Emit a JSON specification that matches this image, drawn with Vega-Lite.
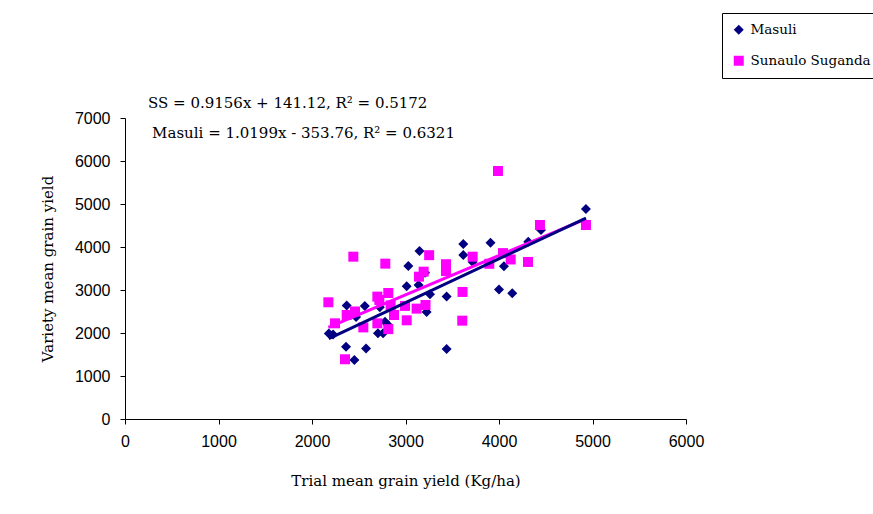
{
  "$schema": "https://vega.github.io/schema/vega-lite/v6.json",
  "autosize": {"type": "none"},
  "width": 561,
  "height": 301,
  "padding": {"left": 125, "top": 118, "right": 187, "bottom": 95},
  "background": "white",
  "config": {
    "view": {"stroke": null},
    "axis": {
      "grid": false,
      "domainColor": "black",
      "domainWidth": 1,
      "tickColor": "black",
      "tickSize": 5,
      "labelFont": "Liberation Sans",
      "labelFontSize": 16,
      "labelColor": "black",
      "labelFlush": false,
      "titleFont": "DejaVu Serif",
      "titleFontSize": 15,
      "titleFontWeight": "normal",
      "titleColor": "black"
    },
    "legend": {
      "orient": "none",
      "legendX": 597,
      "legendY": -105,
      "strokeColor": "black",
      "fillColor": "white",
      "padding": 10,
      "rowPadding": 16,
      "labelFont": "DejaVu Serif",
      "labelFontSize": 13.5,
      "labelColor": "black",
      "labelOffset": 5,
      "symbolSize": 100,
      "symbolStrokeWidth": 0
    }
  },
  "datasets": {
    "points": [
      {"variety": "Masuli", "trial": 2180, "yield": 1990},
      {"variety": "Masuli", "trial": 2225, "yield": 1965},
      {"variety": "Masuli", "trial": 2364, "yield": 1682},
      {"variety": "Masuli", "trial": 2453, "yield": 1372},
      {"variety": "Masuli", "trial": 2578, "yield": 1640},
      {"variety": "Masuli", "trial": 2371, "yield": 2640},
      {"variety": "Masuli", "trial": 2565, "yield": 2628},
      {"variety": "Masuli", "trial": 2471, "yield": 2370},
      {"variety": "Masuli", "trial": 2725, "yield": 2600},
      {"variety": "Masuli", "trial": 2705, "yield": 1993},
      {"variety": "Masuli", "trial": 2760, "yield": 1993},
      {"variety": "Masuli", "trial": 2816, "yield": 2180},
      {"variety": "Masuli", "trial": 2781, "yield": 2263},
      {"variety": "Masuli", "trial": 3013, "yield": 3085},
      {"variety": "Masuli", "trial": 3140, "yield": 3117},
      {"variety": "Masuli", "trial": 3030, "yield": 3559},
      {"variety": "Masuli", "trial": 3150, "yield": 3905},
      {"variety": "Masuli", "trial": 3226, "yield": 2490},
      {"variety": "Masuli", "trial": 3262, "yield": 2900},
      {"variety": "Masuli", "trial": 3440, "yield": 2846},
      {"variety": "Masuli", "trial": 3440, "yield": 1628},
      {"variety": "Masuli", "trial": 3618, "yield": 4070},
      {"variety": "Masuli", "trial": 3618, "yield": 3815},
      {"variety": "Masuli", "trial": 3718, "yield": 3650},
      {"variety": "Masuli", "trial": 3909, "yield": 4101},
      {"variety": "Masuli", "trial": 4053, "yield": 3550},
      {"variety": "Masuli", "trial": 4000, "yield": 3010},
      {"variety": "Masuli", "trial": 4142, "yield": 2924},
      {"variety": "Masuli", "trial": 4313, "yield": 4124},
      {"variety": "Masuli", "trial": 4449, "yield": 4396},
      {"variety": "Masuli", "trial": 4930, "yield": 4885},
      {"variety": "Masuli", "trial": 3209, "yield": 3404},
      {"variety": "Sunaulo Suganda", "trial": 2175, "yield": 2714},
      {"variety": "Sunaulo Suganda", "trial": 2246, "yield": 2225},
      {"variety": "Sunaulo Suganda", "trial": 2353, "yield": 1389},
      {"variety": "Sunaulo Suganda", "trial": 2371, "yield": 2419},
      {"variety": "Sunaulo Suganda", "trial": 2460, "yield": 2500},
      {"variety": "Sunaulo Suganda", "trial": 2442, "yield": 3775},
      {"variety": "Sunaulo Suganda", "trial": 2549, "yield": 2130},
      {"variety": "Sunaulo Suganda", "trial": 2699, "yield": 2846},
      {"variety": "Sunaulo Suganda", "trial": 2720, "yield": 2768},
      {"variety": "Sunaulo Suganda", "trial": 2816, "yield": 2930},
      {"variety": "Sunaulo Suganda", "trial": 2699, "yield": 2225},
      {"variety": "Sunaulo Suganda", "trial": 2816, "yield": 2090},
      {"variety": "Sunaulo Suganda", "trial": 2877, "yield": 2419},
      {"variety": "Sunaulo Suganda", "trial": 2784, "yield": 3613},
      {"variety": "Sunaulo Suganda", "trial": 2841, "yield": 2640},
      {"variety": "Sunaulo Suganda", "trial": 3013, "yield": 2295},
      {"variety": "Sunaulo Suganda", "trial": 2995, "yield": 2630},
      {"variety": "Sunaulo Suganda", "trial": 3119, "yield": 2567},
      {"variety": "Sunaulo Suganda", "trial": 3214, "yield": 2652},
      {"variety": "Sunaulo Suganda", "trial": 3144, "yield": 3310},
      {"variety": "Sunaulo Suganda", "trial": 3194, "yield": 3426},
      {"variety": "Sunaulo Suganda", "trial": 3253, "yield": 3810},
      {"variety": "Sunaulo Suganda", "trial": 3433, "yield": 3600},
      {"variety": "Sunaulo Suganda", "trial": 3433, "yield": 3440},
      {"variety": "Sunaulo Suganda", "trial": 3610, "yield": 2955},
      {"variety": "Sunaulo Suganda", "trial": 3607, "yield": 2287},
      {"variety": "Sunaulo Suganda", "trial": 3718, "yield": 3775},
      {"variety": "Sunaulo Suganda", "trial": 3896, "yield": 3610},
      {"variety": "Sunaulo Suganda", "trial": 4043, "yield": 3858},
      {"variety": "Sunaulo Suganda", "trial": 4125, "yield": 3710},
      {"variety": "Sunaulo Suganda", "trial": 4310, "yield": 3652},
      {"variety": "Sunaulo Suganda", "trial": 4438, "yield": 4512},
      {"variety": "Sunaulo Suganda", "trial": 3989, "yield": 5768},
      {"variety": "Sunaulo Suganda", "trial": 4930, "yield": 4512}
    ],
    "trend": [
      {"line": "SS", "trial": 2175, "yield": 2132},
      {"line": "SS", "trial": 4930, "yield": 4655},
      {"line": "Masuli", "trial": 2180, "yield": 1870},
      {"line": "Masuli", "trial": 4930, "yield": 4674}
    ],
    "labels": [
      {"label": "SS = 0.9156x + 141.12, R² = 0.5172", "lx": 246, "ly": 7340},
      {"label": "Masuli = 1.0199x - 353.76, R² = 0.6321", "lx": 290, "ly": 6650}
    ]
  },
  "layer": [
    {
      "data": {"name": "points"},
      "mark": {"type": "point", "filled": true, "opacity": 1, "size": 100, "strokeWidth": 0},
      "encoding": {
        "x": {
          "field": "trial", "type": "quantitative",
          "scale": {"domain": [0, 6000], "nice": false, "zero": true},
          "axis": {"values": [0, 1000, 2000, 3000, 4000, 5000, 6000], "labelPadding": 9, "titlePadding": 24, "title": "Trial mean grain yield (Kg/ha)", "format": "d"}
        },
        "y": {
          "field": "yield", "type": "quantitative",
          "scale": {"domain": [0, 7000], "nice": false},
          "axis": {"values": [0, 1000, 2000, 3000, 4000, 5000, 6000, 7000], "labelPadding": 10, "titlePadding": 19, "title": "Variety mean grain yield", "format": "d"}
        },
        "color": {
          "field": "variety", "type": "nominal",
          "scale": {"domain": ["Masuli", "Sunaulo Suganda"], "range": ["#000080", "#FF00FF"]},
          "legend": {"title": null}
        },
        "shape": {
          "field": "variety", "type": "nominal",
          "scale": {"domain": ["Masuli", "Sunaulo Suganda"], "range": ["diamond", "square"]},
          "legend": {"title": null}
        }
      }
    },
    {
      "data": {"name": "trend"},
      "transform": [{"filter": "datum.line === 'SS'"}],
      "mark": {"type": "line", "color": "#FF00FF", "strokeWidth": 3},
      "encoding": {
        "x": {"field": "trial", "type": "quantitative"},
        "y": {"field": "yield", "type": "quantitative"}
      }
    },
    {
      "data": {"name": "trend"},
      "transform": [{"filter": "datum.line === 'Masuli'"}],
      "mark": {"type": "line", "color": "#000080", "strokeWidth": 3},
      "encoding": {
        "x": {"field": "trial", "type": "quantitative"},
        "y": {"field": "yield", "type": "quantitative"}
      }
    },
    {
      "data": {"name": "labels"},
      "mark": {"type": "text", "align": "left", "baseline": "middle", "font": "DejaVu Serif", "fontSize": 15, "color": "black"},
      "encoding": {
        "x": {"field": "lx", "type": "quantitative"},
        "y": {"field": "ly", "type": "quantitative"},
        "text": {"field": "label"}
      }
    }
  ]
}
